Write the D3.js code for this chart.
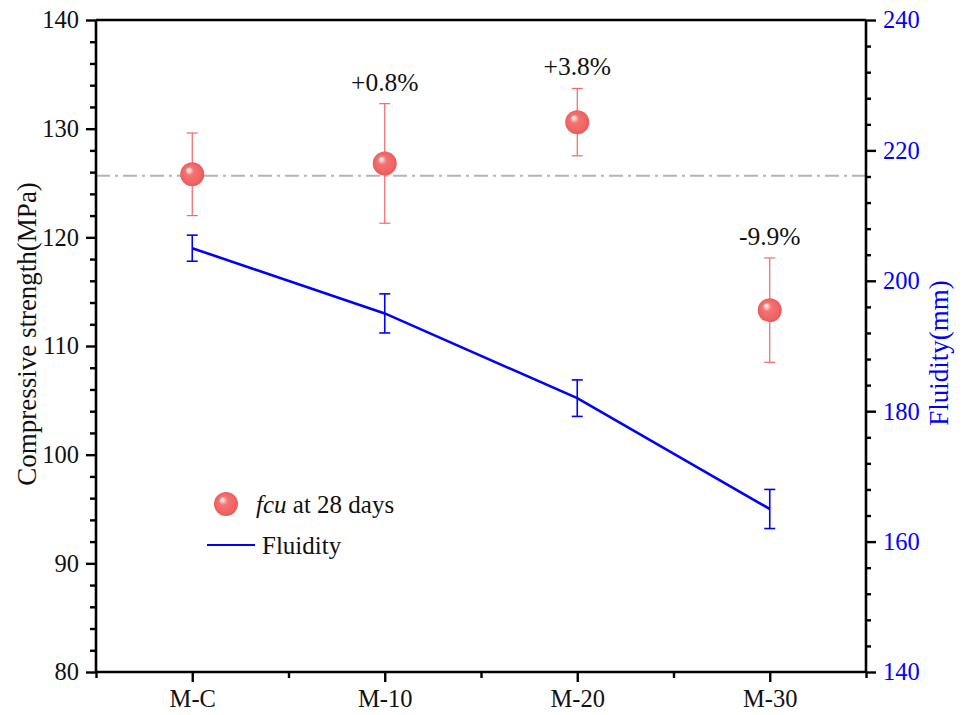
<!DOCTYPE html>
<html>
<head>
<meta charset="utf-8">
<script src="https://cdn.jsdelivr.net/npm/d3@7"></script>
<style>
  html, body { margin: 0; padding: 0; background: #fff; }
  svg { display: block; }
  svg text { font-family: "Liberation Serif", "Times New Roman", serif; }
</style>
</head>
<body>
<svg id="chart" width="966" height="715"></svg>
<script>
// Mix designs
const categories = ["M-C", "M-10", "M-20", "M-30"];
// 28-day compressive strength (MPa) and its spread
const strength = [125.8, 126.8, 130.6, 113.3];
const strengthErr = [3.8, 5.5, 3.1, 4.8];
// Change relative to the control mix
const changeLabels = [null, "+0.8%", "+3.8%", "-9.9%"];
// Fluidity (mm) and its spread
const fluidity = [205, 195, 182, 165];
const fluidityErr = [2, 3, 2.8, 3];
// Axis ticks
const leftTicks = [80, 90, 100, 110, 120, 130, 140];
const rightTicks = [140, 160, 180, 200, 220, 240];

const svg = d3.select("#chart");
const L = 96, R = 866, T = 20, B = 672;

const x = d3.scaleLinear().domain([0.5, 4.5]).range([L, R]);
const yL = d3.scaleLinear().domain([80, 140]).range([B, T]);
const yR = d3.scaleLinear().domain([140, 240]).range([B, T]);

const red = "#f06868";
const blue = "#0000ff";

// Sphere gradient for the strength markers
const defs = svg.append("defs");
const grad = defs.append("radialGradient")
  .attr("id", "sphere").attr("cx", "0.5").attr("cy", "0.5").attr("r", "0.5")
  .attr("fx", "0.33").attr("fy", "0.3");
grad.append("stop").attr("offset", "0%").attr("stop-color", "#ffffff");
grad.append("stop").attr("offset", "14%").attr("stop-color", "#fbd0d0");
grad.append("stop").attr("offset", "35%").attr("stop-color", "#f47474");
grad.append("stop").attr("offset", "85%").attr("stop-color", "#f06262");
grad.append("stop").attr("offset", "100%").attr("stop-color", "#e85a5a");

// Reference line at the control strength
svg.append("line")
  .attr("x1", L).attr("x2", R)
  .attr("y1", yL(strength[0]) + 1.5).attr("y2", yL(strength[0]) + 1.5)
  .attr("stroke", "#b4b4b4").attr("stroke-width", 2)
  .attr("stroke-dasharray", "14,5,3,5");

// Fluidity line
const idx = d3.range(categories.length);
svg.append("path")
  .datum(idx)
  .attr("fill", "none").attr("stroke", blue).attr("stroke-width", 2.6)
  .attr("d", d3.line().x(i => x(i + 1)).y(i => yR(fluidity[i])));

// Fluidity error bars
const capW = 5.5;
const fErr = svg.append("g").attr("stroke", blue).attr("stroke-width", 1.6);
idx.forEach(i => {
  const cx = x(i + 1), y1 = yR(fluidity[i] + fluidityErr[i]), y2 = yR(fluidity[i] - fluidityErr[i]);
  fErr.append("line").attr("x1", cx).attr("x2", cx).attr("y1", y1).attr("y2", y2);
  fErr.append("line").attr("x1", cx - capW).attr("x2", cx + capW).attr("y1", y1).attr("y2", y1);
  fErr.append("line").attr("x1", cx - capW).attr("x2", cx + capW).attr("y1", y2).attr("y2", y2);
});

// Strength error bars
const sErr = svg.append("g").attr("stroke", red).attr("stroke-width", 1.2);
idx.forEach(i => {
  const cx = x(i + 1), y1 = yL(strength[i] + strengthErr[i]), y2 = yL(strength[i] - strengthErr[i]);
  sErr.append("line").attr("x1", cx).attr("x2", cx).attr("y1", y1).attr("y2", y2);
  sErr.append("line").attr("x1", cx - capW).attr("x2", cx + capW).attr("y1", y1).attr("y2", y1);
  sErr.append("line").attr("x1", cx - capW).attr("x2", cx + capW).attr("y1", y2).attr("y2", y2);
});

// Strength markers
svg.append("g").selectAll("circle").data(idx).join("circle")
  .attr("cx", i => x(i + 1)).attr("cy", i => yL(strength[i]))
  .attr("r", 12).attr("fill", "url(#sphere)");

// Percentage annotations
svg.append("g").selectAll("text")
  .data(idx.filter(i => changeLabels[i]))
  .join("text")
  .attr("x", i => x(i + 1))
  .attr("y", i => yL(strength[i] + strengthErr[i]) - 13)
  .attr("text-anchor", "middle")
  .style("font-size", "25.5px").attr("fill", "#111")
  .text(i => changeLabels[i]);

// Axes
const axisW = 2.6;

const left = svg.append("g").attr("transform", `translate(${L},0)`)
  .call(d3.axisLeft(yL).tickValues(leftTicks).tickSize(10).tickPadding(7).tickFormat(d3.format("d")));
svg.append("g").attr("transform", `translate(${L},0)`)
  .call(d3.axisLeft(yL).tickValues(d3.range(82, 140, 2).filter(v => v % 10 !== 0)).tickSize(6).tickFormat(""))
  .call(g => g.select(".domain").remove());

const right = svg.append("g").attr("transform", `translate(${R},0)`)
  .call(d3.axisRight(yR).tickValues(rightTicks).tickSize(10).tickPadding(7).tickFormat(d3.format("d")));
svg.append("g").attr("transform", `translate(${R},0)`)
  .call(d3.axisRight(yR).tickValues(d3.range(144, 240, 4).filter(v => v % 20 !== 0)).tickSize(5).tickFormat(""))
  .call(g => g.select(".domain").remove());

const bottom = svg.append("g").attr("transform", `translate(0,${B})`)
  .call(d3.axisBottom(x).tickValues([1, 2, 3, 4]).tickSize(10).tickPadding(8).tickFormat(d => categories[d - 1]));
svg.append("g").attr("transform", `translate(0,${B})`)
  .call(d3.axisBottom(x).tickValues([0.5, 1.5, 2.5, 3.5, 4.5]).tickSize(6).tickFormat(""))
  .call(g => g.select(".domain").remove());

// Top frame
svg.append("line").attr("x1", L).attr("x2", R).attr("y1", T).attr("y2", T)
  .attr("stroke", "#000").attr("stroke-width", axisW);

svg.selectAll(".domain").attr("stroke-width", axisW).attr("stroke", "#000");
svg.selectAll(".tick line").attr("stroke-width", 2.4).attr("stroke", "#000");
svg.selectAll(".tick text").style("font-size", "24.5px").attr("fill", "#111");
right.selectAll(".tick text").attr("fill", blue);
left.select(".domain").attr("d", `M0,${T}V${B}`);
right.select(".domain").attr("d", `M0,${T}V${B}`);
bottom.select(".domain").attr("d", `M${L},0H${R}`);

// Axis titles
svg.append("text")
  .attr("transform", `translate(36,334) rotate(-90)`)
  .attr("text-anchor", "middle").style("font-size", "27px").attr("fill", "#111")
  .text("Compressive strength(MPa)");
svg.append("text")
  .attr("transform", `translate(948,353) rotate(-90)`)
  .attr("text-anchor", "middle").style("font-size", "27px").attr("fill", blue)
  .text("Fluidity(mm)");

// Legend
const lg = svg.append("g");
lg.append("circle").attr("cx", 226).attr("cy", 504).attr("r", 12).attr("fill", "url(#sphere)");
const t1 = lg.append("text").attr("x", 256).attr("y", 513).style("font-size", "25px").attr("fill", "#111");
t1.append("tspan").attr("font-style", "italic").text("fcu");
t1.append("tspan").text(" at 28 days");
lg.append("line").attr("x1", 207).attr("x2", 255).attr("y1", 545).attr("y2", 545)
  .attr("stroke", blue).attr("stroke-width", 2);
lg.append("text").attr("x", 262).attr("y", 554).style("font-size", "25px").attr("fill", "#111").text("Fluidity");
</script>
</body>
</html>
